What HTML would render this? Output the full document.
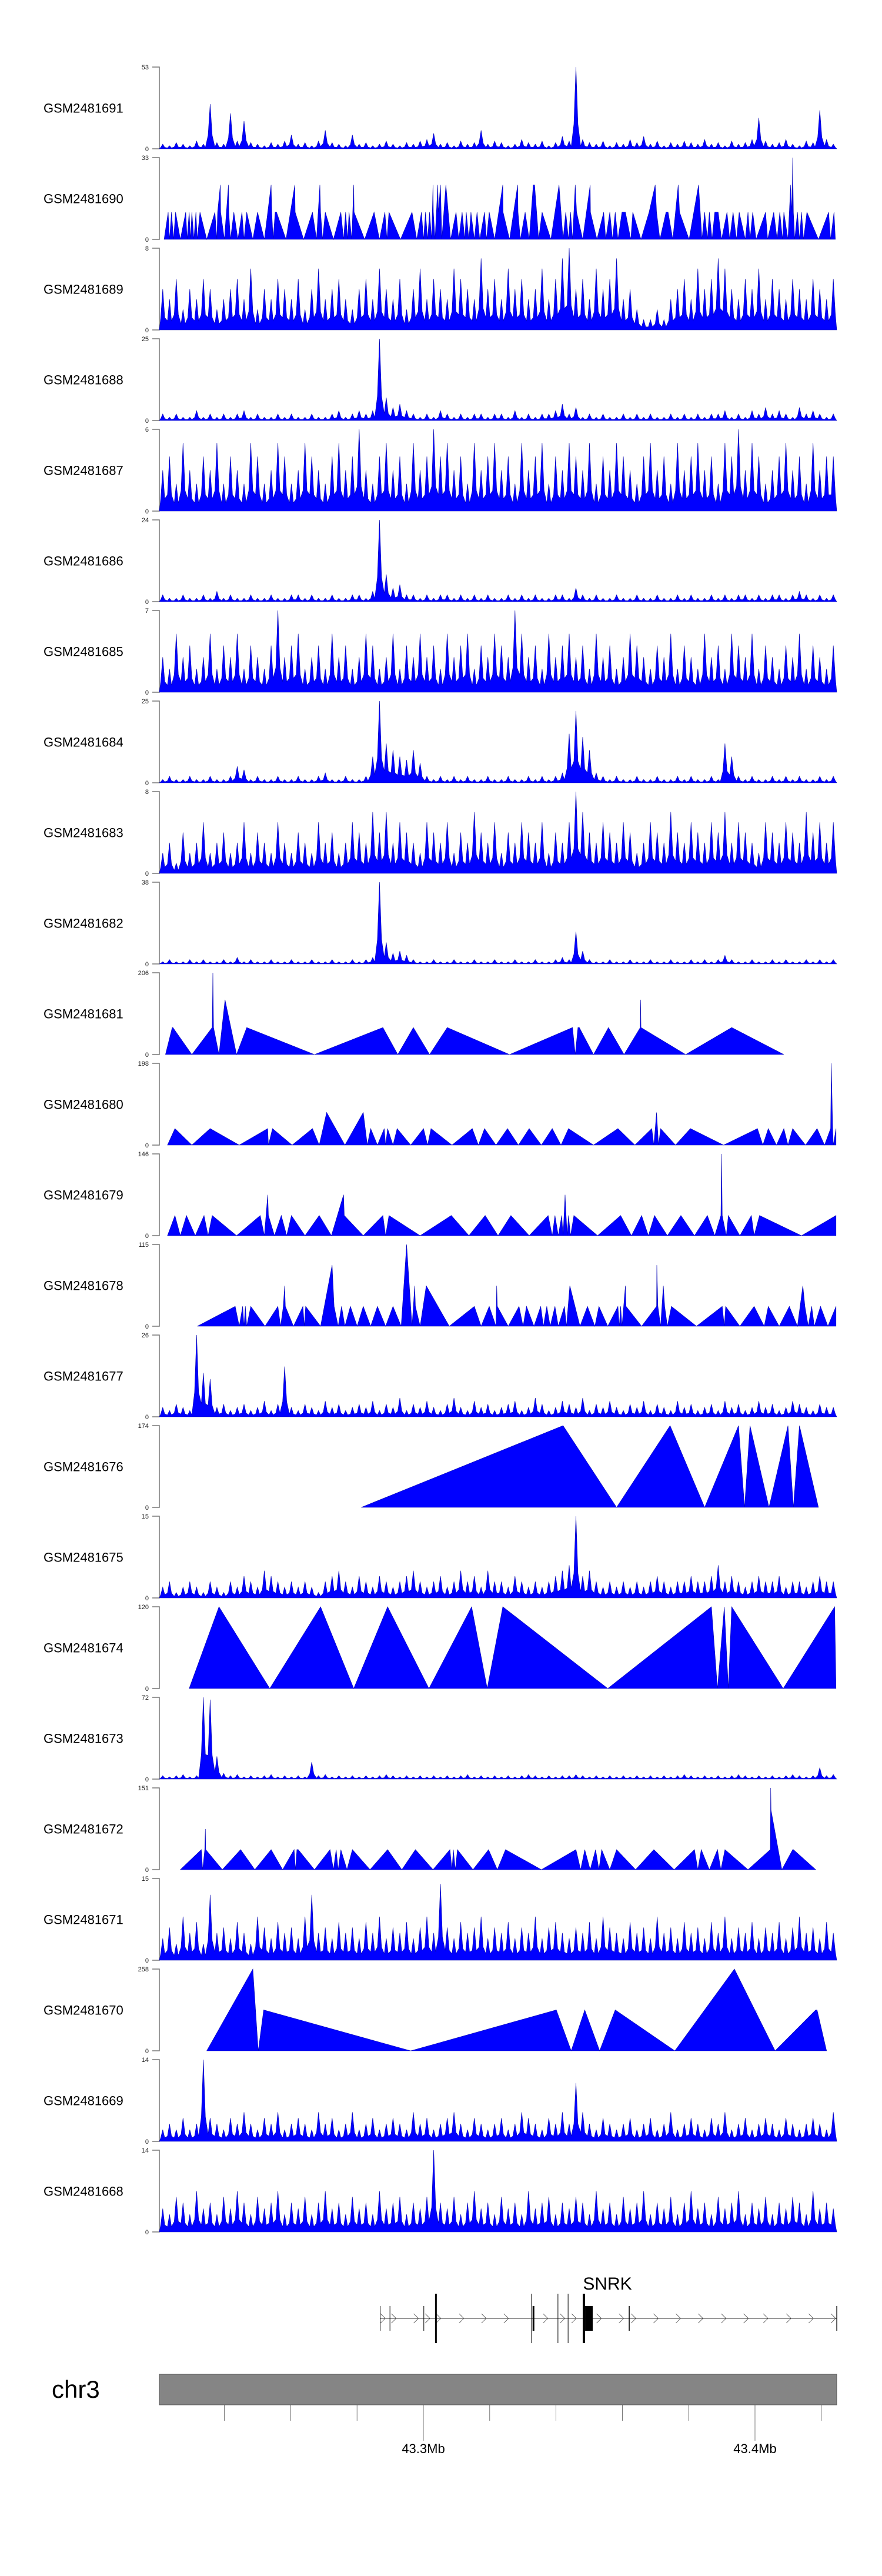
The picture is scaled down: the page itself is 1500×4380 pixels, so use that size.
<!DOCTYPE html>
<html><head><meta charset="utf-8"><title>Coverage tracks chr3 SNRK</title>
<style>
html,body{margin:0;padding:0;background:#fff;}
svg{display:block;font-family:"Liberation Sans",Arial,sans-serif;}
</style></head>
<body>
<svg id="chart" width="1500" height="4380" viewBox="0 0 1500 4380" xmlns="http://www.w3.org/2000/svg">
<rect x="0" y="0" width="1500" height="4380" fill="#fff"/>
<g id="tracks"></g>
<g id="gene"></g>
<g id="ideo"></g>
</svg>
<script>
const trackNames=["GSM2481691","GSM2481690","GSM2481689","GSM2481688","GSM2481687","GSM2481686","GSM2481685","GSM2481684","GSM2481683","GSM2481682","GSM2481681","GSM2481680","GSM2481679","GSM2481678","GSM2481677","GSM2481676","GSM2481675","GSM2481674","GSM2481673","GSM2481672","GSM2481671","GSM2481670","GSM2481669","GSM2481668"];
const trackMax=[53,33,8,25,6,24,7,25,8,38,206,198,146,115,26,174,15,120,72,151,15,258,14,14];

// binned signal tracks (100 bins each)
const bins0=[3,2,4,3,2,5,3,29,4,3,23,5,18,4,3,2,4,3,5,9,3,4,2,5,12,4,3,2,9,3,4,2,3,5,3,2,4,3,5,6,10,3,4,2,5,3,4,12,3,5,4,2,3,6,4,3,5,2,4,8,5,53,6,4,3,5,2,4,3,6,4,8,3,5,2,4,3,5,4,3,6,3,4,2,5,3,4,6,20,5,3,4,6,3,2,5,4,25,6,3];
const bins2=[4,3,5,2,4,3,5,4,2,3,4,5,3,6,2,4,3,5,4,3,5,2,4,6,3,4,5,3,2,4,5,3,6,4,3,5,2,4,6,3,5,4,3,6,5,4,3,7,4,5,3,6,4,5,3,4,6,3,5,7,8,4,5,3,6,4,5,7,3,4,2,1,1,2,1,3,4,5,3,6,4,5,7,6,4,3,5,4,6,3,5,4,3,5,4,3,5,4,3,5];
const bins3=[2,1,2,1,1,3,1,2,1,2,1,2,3,1,2,1,1,2,1,2,1,1,2,1,1,2,3,1,2,3,2,3,25,7,4,5,3,2,1,2,1,3,2,1,2,1,2,2,1,2,2,1,3,1,2,1,2,2,3,5,2,4,1,2,1,2,1,1,2,1,2,1,2,1,1,2,1,2,1,2,1,2,2,3,1,2,1,3,2,4,2,3,2,1,4,2,3,2,1,2];
const bins4=[3,4,2,5,3,2,4,3,5,2,4,3,2,5,4,2,3,5,4,2,3,5,4,3,2,4,5,3,4,6,3,2,4,5,3,4,2,5,3,4,6,4,5,3,4,2,5,3,4,5,3,4,2,5,3,4,5,2,4,3,5,4,3,5,2,4,3,5,4,3,2,4,5,3,4,2,5,3,4,5,3,4,2,5,4,6,3,5,4,2,3,4,5,3,4,2,5,3,4,4];
const bins5=[2,1,1,2,1,1,2,1,3,1,2,1,1,2,1,1,2,1,1,2,2,1,2,1,1,2,1,1,2,2,1,3,24,8,4,5,2,2,1,2,1,2,2,1,2,1,2,1,2,1,1,2,1,2,1,2,1,1,2,2,1,4,2,1,2,1,1,2,1,1,2,1,1,2,1,1,2,1,2,1,1,2,1,2,1,2,2,1,2,1,2,2,1,2,3,2,1,2,1,2];
const bins6=[3,2,5,3,4,2,3,5,2,4,3,5,2,4,3,2,4,7,3,4,5,2,3,4,2,5,3,4,2,3,5,4,2,3,5,2,4,3,5,3,4,2,5,3,4,5,2,4,3,5,4,3,7,5,3,4,2,5,3,4,5,3,4,2,5,3,4,2,3,5,4,3,2,4,3,5,2,4,3,2,5,3,4,2,5,4,3,5,2,4,3,2,4,3,5,2,4,3,2,4];
const bins7=[1,2,1,1,2,1,1,2,1,1,2,5,4,1,2,1,1,2,1,1,2,1,1,2,3,1,1,2,1,1,2,8,25,12,10,8,7,10,6,2,1,2,1,2,1,2,1,1,2,1,1,2,1,1,2,1,2,1,2,3,15,22,14,10,3,2,1,2,1,1,2,1,1,2,1,1,2,1,2,1,1,2,1,12,8,2,1,2,1,1,2,1,2,1,2,1,1,2,1,2];
const bins8=[2,3,1,4,2,3,5,2,3,4,2,3,5,2,4,3,2,5,3,2,4,3,2,5,3,4,2,3,5,4,3,6,4,6,3,5,4,3,2,5,4,3,5,2,4,3,6,4,3,5,2,4,3,5,4,3,5,2,4,3,5,8,6,4,3,5,4,3,5,4,2,3,5,4,3,6,4,3,5,4,3,5,4,6,3,5,4,3,2,5,4,3,5,4,3,6,4,5,3,5];
const bins9=[1,2,1,1,2,1,2,1,1,2,1,3,1,2,1,1,2,1,1,2,1,1,2,1,1,2,1,1,2,1,2,3,38,10,5,6,4,2,1,1,2,1,1,2,1,1,2,1,1,2,1,1,2,1,1,2,1,1,2,3,2,15,6,2,1,1,2,1,1,2,1,1,2,1,1,2,1,1,2,1,2,1,2,4,2,1,1,2,1,1,2,1,2,1,1,2,1,2,1,2];
const bins14=[3,2,4,3,2,26,14,12,3,4,2,3,4,2,3,5,2,4,16,3,2,4,3,2,5,3,4,2,3,4,3,5,2,4,3,6,2,4,3,5,3,2,4,6,3,2,5,3,4,2,3,4,5,2,3,6,4,2,3,5,4,3,6,2,4,3,5,3,2,4,3,5,2,4,3,2,5,3,4,2,3,4,2,5,3,4,2,3,5,3,4,2,3,5,4,3,2,4,3,3];
const bins16=[2,3,1,2,3,2,1,3,2,1,3,2,4,3,2,5,4,3,2,3,2,3,2,1,3,4,5,3,2,4,3,2,4,3,2,3,4,5,3,2,3,4,2,3,5,3,4,2,5,3,3,2,4,3,2,3,2,3,4,5,6,15,4,5,3,2,3,2,3,2,3,2,3,4,3,2,3,3,4,3,3,4,6,3,4,3,2,3,4,3,3,4,2,3,3,2,3,4,3,3];
const bins18=[3,2,3,4,2,3,72,70,20,5,3,4,2,3,2,3,4,2,3,2,3,2,15,3,4,2,3,2,3,2,3,2,3,4,3,2,3,2,3,2,3,2,3,2,3,4,2,3,2,3,2,3,2,3,4,3,2,3,2,3,3,4,3,2,3,2,3,2,3,2,3,2,3,2,3,2,3,4,3,2,3,2,3,2,3,4,3,2,3,2,3,2,3,4,3,2,3,10,3,4];
const bins20=[4,6,3,8,5,7,3,12,5,6,4,7,5,3,8,6,4,7,5,6,4,8,12,5,6,4,7,5,6,4,7,5,8,4,6,5,7,4,6,8,5,14,6,4,7,5,6,8,4,6,5,7,4,6,5,8,4,6,7,5,4,6,5,7,4,8,6,5,4,7,5,6,4,8,5,6,4,7,5,6,4,7,5,8,4,6,5,7,4,6,5,7,4,6,8,5,6,4,7,5];
const bins22=[2,3,2,4,2,3,14,4,3,2,4,3,5,3,2,4,3,5,2,3,4,3,2,5,3,4,2,3,5,2,3,4,2,3,4,3,2,5,3,4,2,3,4,5,3,2,4,3,2,3,4,2,3,5,4,3,2,4,3,5,3,10,5,3,2,4,3,2,3,4,2,3,4,2,3,5,2,3,4,3,2,4,3,5,2,3,4,2,3,4,3,2,4,3,2,3,4,3,2,5];
const bins23=[4,3,6,5,3,7,4,5,3,6,4,7,5,3,6,4,5,7,3,5,4,6,3,5,7,4,5,3,6,4,5,3,7,4,5,6,3,5,4,6,14,5,4,6,3,5,7,4,5,3,6,4,5,3,7,4,5,6,3,5,4,6,5,3,7,4,5,3,6,4,5,7,3,5,4,6,3,5,7,4,5,3,6,4,5,7,3,5,4,6,3,5,4,6,5,3,7,4,5,4];

// sparse coverage tracks: positions (0-1000 across region) and values
const pos1=[7,13,15,18,21,24,31,39,41,44,46,48,51,54,56,60,70,82,85,86,90,90.5,96,102,102.5,105,110,116,122,125,129,138,145,155,165,166,168,171,173,187,200,200.5,213,226,232,237,238,241,245,257,268,272,275,278,280,284,287,287.5,303,317,325,333,336,339,356,373,380,387,390,393,396,399,402,404,404.5,407,411,412,415,417,423,430,438,442,447,451,453,457,460,465,469,473,480,483,487,495,507,507.5,517,529,529.5,533,540,546,552,554,560,565,578,590,596,600,604,607,610,614,616,625,636,636.5,646,656,659,665,669,673,677,683,688,696,699,711,723,732,734,739,748,751,758,766,768,782,796,801,805,809,812,816,820,825,830,838,842,847,852,856,865,869,872,876,881,895,898,907,912,916,920,922,928,932,934,935,936,938,942,945,948,951,956,973,988,991,996,998];
const val1=[0,11,0,11,0,11,0,11,0,11,0,11,0,11,0,11,0,11,0,11,22,11,0,22,11,0,11,0,11,0,11,0,11,0,22,11,0,11,11,0,22,11,0,11,0,22,11,0,11,0,11,0,11,0,11,0,22,11,0,11,0,11,0,11,0,11,0,11,0,11,0,11,0,22,11,0,22,11,22,0,22,0,11,0,11,0,11,0,11,0,11,0,11,0,11,0,22,11,0,22,11,0,11,0,22,22,0,11,0,22,0,11,0,11,0,22,11,0,22,11,0,11,0,11,0,11,0,11,11,0,11,0,11,22,11,0,11,11,0,22,11,0,22,0,11,0,11,0,11,11,0,11,0,11,0,11,0,11,0,11,0,11,0,11,0,11,0,11,0,22,11,33,11,0,11,0,11,0,11,0,11,0,11,0];
const pos10=[9,19,20,48,78,79,80,88,97,114,129,229,330,352,375,399,425,517,610,614,618,620,641,663,686,710,710.5,711,777,845,922];
const val10=[0,68,68,0,68,206,68,0,138,0,68,0,68,0,68,0,68,0,68,0,68,68,0,68,0,68,138,68,0,68,0];
const pos11=[12,23,48,75,118,160,161,167,196,226,236,247,274,301,307,312,322,332,334,337,345,351,371,390,396,401,432,462,471,480,497,514,530,546,564,580,593,604,641,677,702,727,730,734,737,740,762,784,833,883,891,899,911,922,928,935,954,971,982,991,992,994,995,999];
const val11=[0,40,0,40,0,40,0,40,0,40,0,79,0,79,0,40,0,40,0,40,0,40,0,40,0,40,0,40,0,40,0,40,0,40,0,40,0,40,0,40,0,40,0,79,0,40,0,40,0,40,0,40,0,40,0,40,0,40,0,40,198,40,0,40];
const pos12=[12,23,31,40,53,66,72,78,114,149,155,160,161,170,180,188,195,215,236,254,272,273,301,330,334,339,385,431,457,481,500,519,546,574,580,584,589,594,596,599,602,604,607,612,647,681,697,712,722,731,750,770,790,809,820,829,830,831,837,840,857,874,878,886,948,999];
const val12=[0,36,0,36,0,36,0,36,0,36,0,73,36,0,36,0,36,0,36,0,73,36,0,36,0,36,0,36,0,36,0,36,0,36,0,36,0,36,0,73,0,36,0,36,0,36,0,36,0,36,0,36,0,36,0,36,146,36,0,36,0,36,0,36,0,36];
const pos13=[56,112,118,123,125,127,129,135,156,175,179,183,185,186,198,212,214,216,238,255,258,264,269,274,282,292,301,312,322,334,345,357,365,373,377,378,385,394,428,465,475,487,497,498,499,515,531,537,542,553,563,567,572,577,584,589,598,601,606,621,632,643,649,662,677,679,681,683,688,689,712,734,734.4,736,740,744,746,750,756,793,831,834,836,857,878,893,899,915,930,942,950,953,958,963,967,976,987,999];
const val13=[0,28,0,28,0,28,0,28,0,28,0,28,57,28,0,28,0,28,0,86,28,0,28,0,28,0,28,0,28,0,28,0,115,0,57,28,0,57,0,28,0,28,0,57,28,0,28,0,28,0,28,0,28,0,28,0,28,0,57,0,28,0,28,0,28,0,28,0,57,28,0,28,86,28,0,57,28,0,28,0,28,0,28,0,28,0,28,0,28,0,57,28,0,28,0,28,0,28];
const pos15=[298,596,675,754,805,855,864,872,900,928,936,945,973];
const val15=[0,174,0,174,0,174,0,174,0,174,0,174,0];
const pos17=[44,88,163,238,287,337,398,461,484,507,662,815,824,834,840,845,921,997,999];
const val17=[0,120,0,120,0,120,0,120,0,120,0,120,0,120,0,120,0,120,0];
const pos19=[31,62,64,67,68,68.5,93,120,141,165,182,199,201,203,205,229,252,257,261,264,268,277,285,311,337,358,378,404,429,432,434,437,440,463,486,499,511,564,615,622,628,636,644,649,653,665,675,703,730,760,790,795,800,812,824,829,835,869,902,902.5,903,919,935,936,969];
const val19=[0,37,0,37,75,37,0,37,0,37,0,37,0,37,37,0,37,0,37,0,37,0,37,0,37,0,37,0,37,0,37,0,37,0,37,0,37,0,37,0,37,0,37,0,37,0,37,0,37,0,37,0,37,0,37,0,37,0,37,151,110,0,37,37,0];
const pos21=[70,138,146,154,371,586,608,628,650,673,761,849,909,969,971,985];
const val21=[0,258,0,129,0,129,0,129,0,129,0,258,0,129,129,0];

// gene model (positions 0-1000 in region)
const exonPos=[325.5,340,390,407,549,551,588,603,625,628.5,693,999.5];
const exonWidth=[1,1,1,3,1,3,1,1,4,13,1.5,1.5];
const exonTall=[0,0,0,1,1,0,1,1,1,0,0,0];
const chevronPos=[330,346,379,396,412,446,479,512,570,595,612,649,682,700,733,766,799,833,866,895,929,962,995];
const geneStart=326, geneEnd=1000;
// axis ticks (Mb)
const tickMb=[43.24,43.26,43.28,43.30,43.32,43.34,43.36,43.38,43.40,43.42];
const tickLabels={"43.30":"43.3Mb","43.40":"43.4Mb"};

const binned={0:bins0,2:bins2,3:bins3,4:bins4,5:bins5,6:bins6,7:bins7,8:bins8,9:bins9,14:bins14,16:bins16,18:bins18,20:bins20,22:bins22,23:bins23};
const sparse={1:[pos1,val1],10:[pos10,val10],11:[pos11,val11],12:[pos12,val12],13:[pos13,val13],15:[pos15,val15],17:[pos17,val17],19:[pos19,val19],21:[pos21,val21]};

const NS="http://www.w3.org/2000/svg";
const X0=271,X1=1423,TOP0=114,PITCH=154,TH=139;
function xs(p){return X0+p/1000*(X1-X0);}
function mk(tag,attrs,parent){const e=document.createElementNS(NS,tag);for(const k in attrs)e.setAttribute(k,attrs[k]);parent.appendChild(e);return e;}

const tracks=document.getElementById('tracks');
trackNames.forEach((name,i)=>{
  const top=TOP0+PITCH*i, bot=top+TH, max=trackMax[i];
  const ys=v=>bot-TH*Math.min(v,max)/max;
  const g=mk('g',{},tracks);
  
  
  const lab=mk('text',{x:74,y:top+TH/2+8,'font-size':22,fill:'#000'},g);
  lab.textContent=name;
  
  
  const ax=mk('path',{d:`M259 ${top}H${X0}V${bot}H259`,fill:'none',stroke:'#777','stroke-width':1.5},g);
  
  
  const tMax=mk('text',{x:253,y:top+4,'font-size':11,'text-anchor':'end',fill:'#222'},g);
  tMax.textContent=String(max);
  
  
  const tZero=mk('text',{x:253,y:bot+4,'font-size':11,'text-anchor':'end',fill:'#222'},g);
  tZero.textContent='0';
  
  
  let pts=[];
  if(binned[i]){
    const b=binned[i];
    const w=1000/b.length;
    pts.push([xs(0),bot]);
    b.forEach((v,k)=>{
      pts.push([xs(k*w+w*0.2),ys(v*0.3)]);
      pts.push([xs(k*w+w*0.5),ys(v)]);
      pts.push([xs(k*w+w*0.8),ys(v*0.3)]);
    });
    pts.push([xs(1000),bot]);
  } else {
    const [P,V]=sparse[i];
    const n=Math.min(P.length,V.length);
    pts.push([xs(P[0]),bot]);
    for(let k=0;k<n;k++)pts.push([xs(P[k]),ys(V[k])]);
    pts.push([xs(P[n-1]),bot]);
  }
  const poly=mk('polygon',{points:pts.map(p=>p[0].toFixed(1)+','+p[1].toFixed(1)).join(' '),fill:'#0000FF',stroke:'#0000B0','stroke-width':0.6,'stroke-linejoin':'miter'},g);
  
  
});

// gene
const gene=document.getElementById('gene');
const GY=3942;
const gl=mk('line',{x1:xs(geneStart),x2:xs(geneEnd),y1:GY,y2:GY,stroke:'#333','stroke-width':1},gene);


chevronPos.forEach(p=>{
  const x=xs(p);
  const c=mk('path',{d:`M${x-4} ${GY-8}L${x+4} ${GY}L${x-4} ${GY+8}`,fill:'none',stroke:'#444','stroke-width':0.8},gene);
  
  
});
exonPos.forEach((p,k)=>{
  const hh=exonTall[k]?42:21;
  const r=mk('rect',{x:xs(p),y:GY-hh,width:exonWidth[k],height:hh*2,fill:'#000'},gene);
  
  
});
const gname=mk('text',{x:1033,y:3893,'font-size':30,'text-anchor':'middle',fill:'#000'},gene);
gname.textContent='SNRK';



// ideogram + axis
const ideo=document.getElementById('ideo');
const bar=mk('rect',{x:X0,y:4037,width:X1-X0,height:52,fill:'#858585',stroke:'#555','stroke-width':1},ideo);


const chr=mk('text',{x:88,y:4077,'font-size':42,fill:'#000'},ideo);
chr.textContent='chr3';


const mbx=mb=>720+(mb-43.3)*5640;
tickMb.forEach(mb=>{
  const key=mb.toFixed(2);
  const major=tickLabels[key]!==undefined;
  const x=mbx(mb);
  const t=mk('line',{x1:x,x2:x,y1:4089,y2:major?4150:4116,stroke:'#555','stroke-width':0.8},ideo);
  
  
  if(major){
    const tl=mk('text',{x:x,y:4171,'font-size':22,'text-anchor':'middle',fill:'#000'},ideo);
    tl.textContent=tickLabels[key];
    
    
  }
});
</script>
</body></html>
